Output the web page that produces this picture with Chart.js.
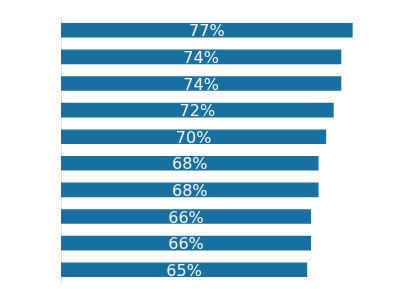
<!DOCTYPE html>
<html>
<head>
<meta charset="utf-8">
<script src="https://cdn.jsdelivr.net/npm/chart.js@4"></script>
<style>
  html, body { margin: 0; padding: 0; background: #fff; }
  #wrap { width: 397px; height: 289px; }
</style>
</head>
<body>
<div id="wrap"><canvas id="chart-1"></canvas></div>
<script>
const categories = ['1', '2', '3', '4', '5', '6', '7', '8', '9', '10'];
const values = [77, 74, 74, 72, 70, 68, 68, 66, 66, 65];
const labels = values.map(v => v + '%');

const barLabels = {
  id: 'barLabels',
  afterDatasetsDraw(chart) {
    const ctx = chart.ctx;
    const meta = chart.getDatasetMeta(0);
    ctx.save();
    ctx.font = '16px "DejaVu Sans", sans-serif';
    ctx.fillStyle = '#f2f6f9';
    ctx.textAlign = 'center';
    ctx.textBaseline = 'middle';
    meta.data.forEach((bar, i) => {
      const cx = (bar.base + bar.x) / 2;
      ctx.fillText(labels[i], cx, bar.y + 2);
    });
    ctx.restore();
  }
};

const ctx1 = document.getElementById('chart-1').getContext('2d');

const myChart = new Chart(ctx1, {
  type: 'bar',
  data: {
    labels: categories,
    datasets: [{
      data: values,
      backgroundColor: '#17709f',
      borderWidth: 0,
      barPercentage: 0.55,
      categoryPercentage: 1
    }]
  },
  options: {
    indexAxis: 'y',
    responsive: true,
    maintainAspectRatio: false,
    animation: false,
    layout: { padding: { left: 61, top: 17, right: 33, bottom: 6 } },
    plugins: {
      legend: { display: false },
      tooltip: { enabled: false }
    },
    scales: {
      x: { display: false, min: 0, max: 80 },
      y: {
        ticks: { display: false },
        grid: { display: false, drawTicks: false },
        border: { display: true, color: '#e4e4e4', width: 1 }
      }
    }
  },
  plugins: [barLabels]
});
</script>
</body>
</html>
